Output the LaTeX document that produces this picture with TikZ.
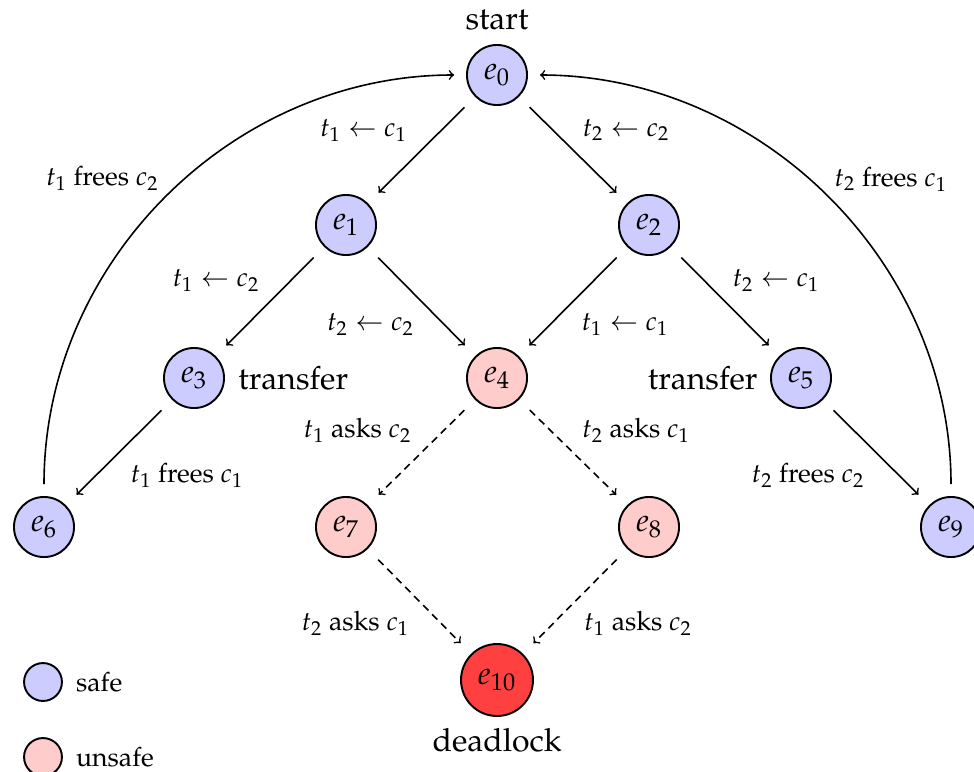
\documentclass[tikz,border=0pt]{standalone}
\usepackage[T1]{fontenc}
\usepackage{mathpazo}
\begin{document}
\begin{tikzpicture}[x=0.4695pt,y=-0.4695pt, font=\fontsize{12.5}{15}\selectfont,
  state/.style={circle, draw, line width=0.9pt, minimum size=28.2pt, inner sep=0pt, font=\fontsize{15}{18}\selectfont},
  safe/.style={state, fill=blue!20},
  unsafe/.style={state, fill=red!20},
  dead/.style={state, fill=red!75, minimum size=33.8pt},
  tr/.style={->, line width=0.75pt, shorten >=7pt, shorten <=7pt},
  dtr/.style={tr, dash pattern=on 3.5pt off 2.5pt},
  ctr/.style={->, line width=0.75pt, shorten >=5.6pt, shorten <=5.6pt},
  lab/.style={inner sep=0pt},
  big/.style={inner sep=0pt, font=\fontsize{15}{18}\selectfont}]
\useasboundingbox (0,0) rectangle (974,771);

\node[safe] (e0) at (497,75) {$e_0$};
\node[safe] (e1) at (346,225) {$e_1$};
\node[safe] (e2) at (649,225) {$e_2$};
\node[safe] (e3) at (194,378) {$e_3$};
\node[unsafe] (e4) at (497,378) {$e_4$};
\node[safe] (e5) at (801,378) {$e_5$};
\node[safe] (e6) at (44,527) {$e_6$};
\node[unsafe] (e7) at (346,527) {$e_7$};
\node[unsafe] (e8) at (649,527) {$e_8$};
\node[safe] (e9) at (951,527) {$e_9$};
\node[dead] (e10) at (497,680) {$e_{10}$};

\node[big] (start) at (497,20) {start};
\node[big, anchor=west] (tra) at (238,378) {transfer};
\node[big, anchor=east] (trb) at (758,378) {transfer};
\node[big] (dl) at (497,740) {deadlock};

\draw[tr] (e0) -- node[lab, shift={(-58,-20)}] {$t_1 \leftarrow c_1$} (e1);
\draw[tr] (e0) -- node[lab, shift={(53,-20)}] {$t_2 \leftarrow c_2$} (e2);
\draw[tr] (e1) -- node[lab, shift={(-54,-21)}] {$t_1 \leftarrow c_2$} (e3);
\draw[tr] (e1) -- node[lab, shift={(-51,23)}] {$t_2 \leftarrow c_2$} (e4);
\draw[tr] (e2) -- node[lab, shift={(52,23)}] {$t_1 \leftarrow c_1$} (e4);
\draw[tr] (e2) -- node[lab, shift={(51,-21)}] {$t_2 \leftarrow c_1$} (e5);
\draw[tr] (e3) -- node[lab, shift={(68,23)}] {$t_1$ frees $c_1$} (e6);
\draw[tr] (e5) -- node[lab, shift={(-68,23)}] {$t_2$ frees $c_2$} (e9);
\draw[dtr] (e4) -- node[lab, shift={(-64,-22)}] {$t_1$ asks $c_2$} (e7);
\draw[dtr] (e4) -- node[lab, shift={(63,-22)}] {$t_2$ asks $c_1$} (e8);
\draw[dtr] (e7) -- node[lab, shift={(-64,22)}] {$t_2$ asks $c_1$} (e10);
\draw[dtr] (e8) -- node[lab, shift={(63,22)}] {$t_1$ asks $c_2$} (e10);

\draw[ctr] (e6.north) to[out=90, in=180, looseness=1]
  node[lab, shift={(-65,-19)}] {$t_1$ frees $c_2$} (e0.west);
\draw[ctr] (e9.north) to[out=90, in=0, looseness=1]
  node[lab, shift={(64,-19)}] {$t_2$ frees $c_1$} (e0.east);

\node[safe, minimum size=17.8pt] (ls) at (43,682) {};
\node[lab, anchor=west, xshift=6pt] (lst) at (ls.east) {safe};
\node[unsafe, minimum size=17.8pt] (lu) at (43,757) {};
\node[lab, anchor=west, xshift=6pt] (lut) at (lu.east) {unsafe};
\end{tikzpicture}
\end{document}
